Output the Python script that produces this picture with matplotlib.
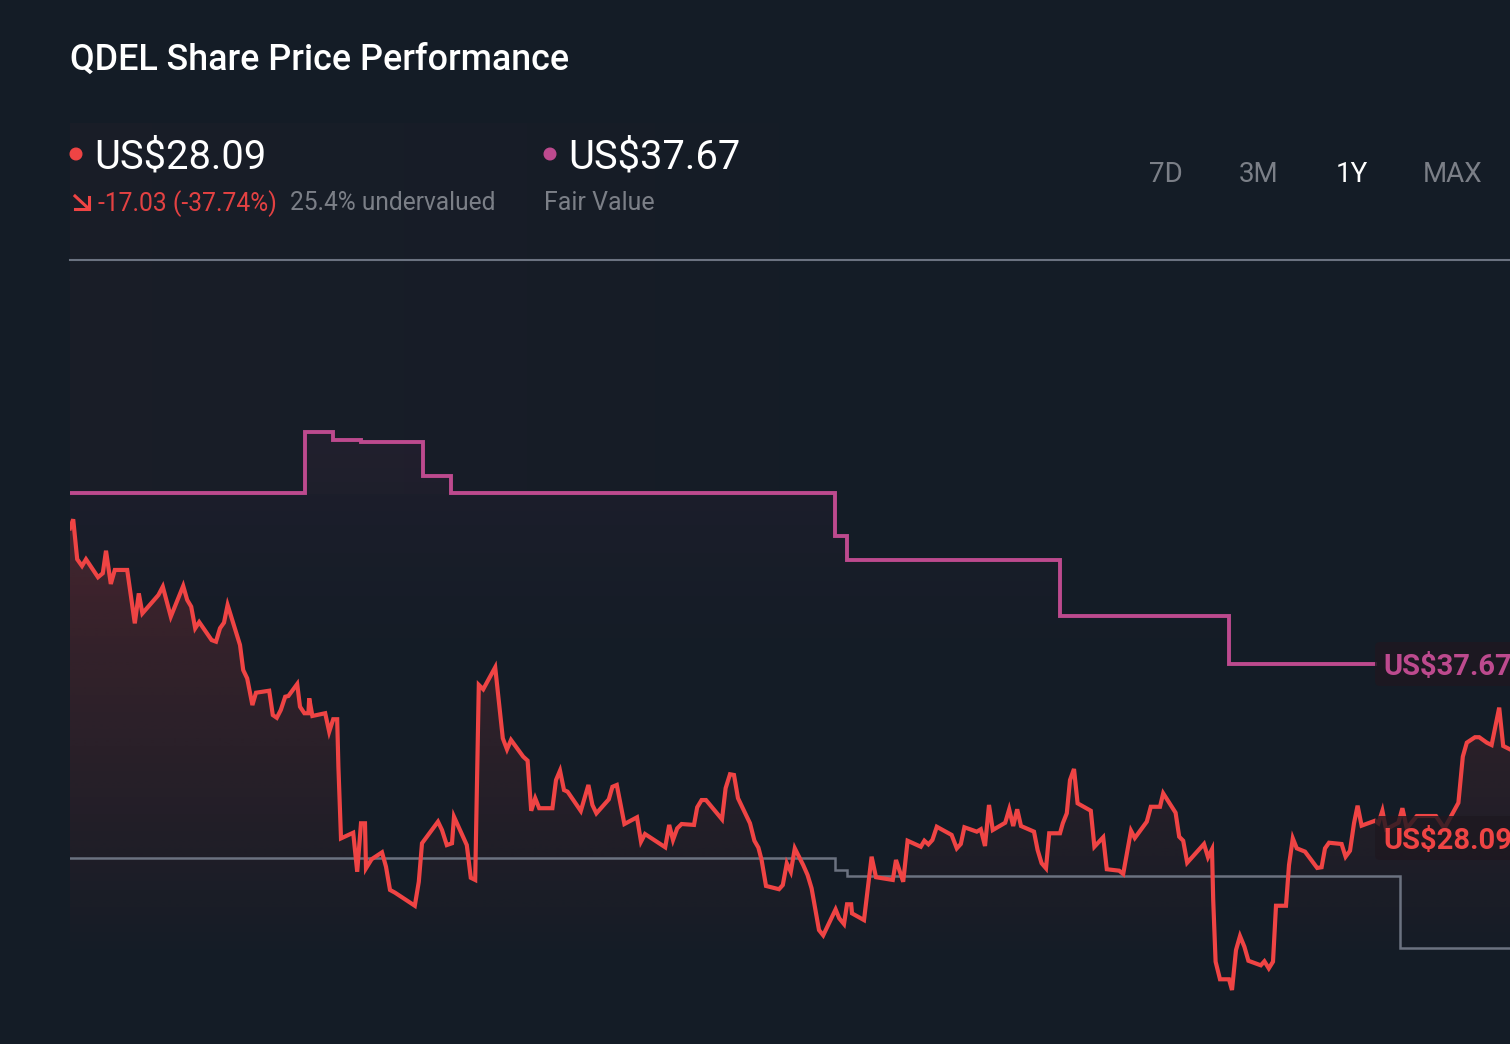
import numpy as np
import matplotlib
matplotlib.use("Agg")
import matplotlib.pyplot as plt
from matplotlib.patches import FancyBboxPatch, Polygon, Circle

plt.rcParams['font.family'] = ['Roboto', 'DejaVu Sans']

# share price, days since start of the 1Y window
price_days = [0, 0.8, 1.8, 3, 4, 7, 8.2, 9, 10.2, 11.2, 14.3, 16.2, 17.2, 18.1, 22.1, 23.2, 24.2, 25.2,
	28.3, 29.3, 30.3, 31.3, 32.3, 35.4, 36.5, 37.5, 38.5, 39.4, 42.5, 43.3, 44.3, 45.6, 46.5, 49.8,
	50.7, 51.7, 52.7, 53.8, 54.6, 56.8, 57.5, 58.6, 59.6, 59.8, 60.6, 63.8, 64.8, 65.8, 66.8, 67.1,
	67.75, 70.8, 71.8, 72.75, 73.75, 74, 75.4, 78, 79, 80, 81.25, 85, 86.2, 87.2, 88, 92, 93, 94.2,
	95.5, 96, 99.2, 100.2, 101.3, 102.2, 103.3, 106.3, 108.2, 109.25, 110.25, 113.3, 114.4, 115.3,
	116.3, 117.3, 120.6, 121.5, 122.5, 123.5, 124.4, 127.7, 129.6, 130.6, 131.6, 134.7, 135.6, 136.7,
	138.6, 141.75, 142.75, 143.75, 148.8, 149.8, 150.75, 151.8, 152.9, 156, 156.8, 157.9, 159, 163,
	163.9, 165, 166, 167, 170, 171.1, 172.1, 172.9, 174, 177.25, 178.2, 179.2, 180.2, 181.2, 183.3,
	184.4, 185.4, 187.25, 188.3, 191.4, 192.3, 193.5, 194.25, 195.3, 195.5, 198.5, 199.6, 200.4,
	201.5, 205.7, 206.5, 208.3, 209.4, 212.7, 213.6, 214.6, 215.6, 216.7, 220.4, 221.7, 222.7, 223.6,
	226.7, 227.7, 228.75, 229.75, 230.7, 233.8, 234.8, 235.8, 236.8, 237.75, 241, 241.9, 242.9, 244,
	244.8, 247.5, 248.2, 249.2, 250, 251, 251.9, 255.2, 256.1, 258.3, 259.2, 262.3, 263.3, 265.25,
	266.2, 269.2, 270.2, 272.5, 273.3, 276.4, 277.3, 278.3, 279.3, 283.5, 284.5, 285.5, 285.8, 286.4,
	287.5, 289.75, 290.5, 291.5, 292.5, 293.6, 294.6, 297.7, 298.6, 299.7, 300.75, 301.5, 304, 304.75,
	305.7, 306.7, 308.75, 311.8, 312.9, 313.75, 314.75, 317.9, 318.9, 320, 321, 321.9, 322.9, 326.25,
	327.1, 328.1, 329, 332.1, 333.1, 334.2, 336.7, 341.5, 343.6, 347.1, 348.2, 349.2, 351.25, 352.3,
	354.2, 355.4, 357.3, 358.3, 360]
price_values = [45.14, 45.64, 43.44, 43.07, 43.44, 42.45, 42.67, 43.91, 42.08, 42.85, 42.85, 39.91, 41.56, 40.46, 41.47, 41.93, 41.10, 40.28,
	41.97, 41.20, 40.83, 39.64, 39.98, 38.99, 38.90, 39.64, 39.95, 40.92, 38.72, 37.34, 36.88, 35.41, 36.09, 36.20,
	34.86, 34.71, 35.14, 35.87, 35.91, 36.57, 35.32, 34.96, 34.96, 35.78, 34.81, 34.96, 33.94, 34.63, 34.63, 32.02,
	28.07, 28.38, 26.23, 28.90, 28.90, 26.42, 26.92, 27.30, 26.51, 25.23, 25.08, 24.53, 24.36, 25.68, 27.80, 28.99, 28.53, 27.70,
	27.80, 29.26, 27.70, 25.90, 25.78, 36.52, 36.28, 37.49, 33.58, 32.97, 33.49, 32.57, 32.35, 29.59,
	30.28, 29.73, 29.73, 31.28, 31.80, 30.73, 30.64, 29.58, 31.01, 29.91, 29.45, 30.22, 30.91, 31.01,
	28.86, 29.23, 27.89, 28.31, 27.58, 28.81, 27.98, 28.62, 28.86, 28.81, 29.78, 30.18, 30.18, 29.12,
	30.83, 31.60, 31.56, 30.28, 28.90, 27.94, 27.56, 26.88, 25.45, 25.27, 25.50, 26.70, 26.23, 27.52, 26.60,
	26.05, 25.32, 23.02, 22.73, 24.16, 23.67, 23.35, 24.44, 24.44, 23.94, 23.57, 25.60, 27.06,
	25.93, 25.78, 26.88, 25.68, 27.94, 27.61, 27.94, 27.74, 27.98, 28.71, 28.26, 27.52, 27.76, 28.68,
	28.44, 28.57, 27.65, 29.91, 28.53, 28.93, 29.67, 28.75, 29.67, 28.75, 28.44, 27.43, 26.70, 26.42,
	28.35, 28.35, 28.90, 29.45, 31.28, 31.89, 30.00, 29.59, 27.61, 28.13, 26.37, 26.29, 26.11, 28.49,
	28.09, 28.99, 29.81, 29.81, 30.55, 29.48, 28.16, 27.94, 26.73, 27.76, 27.03, 27.47, 24.68, 21.28,
	20.31, 20.31, 19.72, 21.92, 22.69, 22.10, 21.33, 21.08, 21.30, 20.91, 21.28, 24.36, 24.36, 26.60,
	28.07, 27.52, 27.34, 26.44, 26.48, 27.52, 27.83, 27.76, 27.06, 27.39, 28.90, 29.87, 28.77, 29.04,
	28.90, 29.59, 28.57, 28.93, 29.73, 28.62, 29.30, 29.30, 28.62, 30.03, 32.57, 33.34, 33.64, 33.64,
	33.34, 33.21, 35.27, 33.16, 32.97]

# fair value steps
fair_days = [0, 58.75, 65.75, 72.75, 88.25, 95.25, 191.25, 194.25, 247.5, 289.75, 326.25]
fair_values = [47.09, 50.45, 50.01, 49.90, 48.02, 47.09, 44.72, 43.40, 40.31, 37.67, 37.67]

# analyst target steps, grey line
target_days = [0, 191.25, 194.25, 332.5, 360]
target_values = [26.99, 26.33, 26.00, 22.03, 22.03]

tabs = ["7D", "3M", "1Y", "MAX"]

BG = "#141c26"
RED = "#ef4444"
PINK = "#bd4a8e"
GREY = "#6b7280"
MUTED = "#7b7f87"

W, H = 1510, 1044
fig = plt.figure(figsize=(W / 100, H / 100), dpi=100, facecolor=BG)

# chart axes: 70px to the right edge, 4px a day, 18.16px a dollar
ax = fig.add_axes([70 / W, 0, 1440 / W, 1])
ax.set_xlim(0, 360)
ax.set_ylim(28.09 + (838 - H) / 18.16, 28.09 + 838 / 18.16)
ax.axis("off")
ax.patch.set_alpha(0)

# overlay in pixels for header texts
hd = fig.add_axes([0, 0, 1, 1], zorder=5)
hd.set_xlim(0, W)
hd.set_ylim(H, 0)
hd.axis("off")
hd.patch.set_alpha(0)


def gradient_fill(days, values, rgb, top_alpha, top_val, bottom_val, z):
	# vertical fade clipped under a series
	n = 256
	img = np.zeros((n, 2, 4))
	img[..., :3] = matplotlib.colors.to_rgb(rgb)
	img[..., 3] = np.linspace(top_alpha, 0, n)[:, None]
	im = ax.imshow(img, extent=[0, 360, bottom_val, top_val], aspect="auto", zorder=z, interpolation="bilinear")
	verts = list(zip(days, values)) + [(days[-1], bottom_val), (days[0], bottom_val)]
	poly = Polygon(verts, closed=True, transform=ax.transData, fill=False, edgecolor="none")
	ax.add_patch(poly)
	im.set_clip_path(poly)


ylim = ax.get_ylim()
xlim = ax.get_xlim()

# faint panel tint behind header, fading to the right
panel = np.zeros((2, 256, 4))
panel[..., :3] = matplotlib.colors.to_rgb("#e05a6a")
panel[..., 3] = np.linspace(0.03, 0, 256)[None, :]
ax.imshow(panel, extent=[0, 240, 28.09 + (838 - 494) / 18.16, 28.09 + (838 - 124) / 18.16], aspect="auto", zorder=0)

fair_x = np.repeat(fair_days, 2)[1:]
fair_y = np.repeat(fair_values, 2)[:-1]
gradient_fill(fair_x, fair_y, PINK, 0.065, 50.45, 37.5, 1)
gradient_fill(price_days, price_values, RED, 0.21, 46.0, 21.0, 2)
ax.set_xlim(xlim)
ax.set_ylim(ylim)

ax.step(target_days, target_values, where="post", color=GREY, lw=1.8, zorder=3, solid_joinstyle="miter")
ax.step(fair_days, fair_values, where="post", color=PINK, lw=2.8, zorder=4, solid_joinstyle="miter")
ax.plot(price_days, price_values, color=RED, lw=3, zorder=5, solid_joinstyle="miter")

# header
hd.text(70, 56.5, "QDEL Share Price Performance", color="white", fontsize=25.8, fontweight="medium", va="center_baseline")
hd.plot([70, W], [260, 260], color=GREY, lw=1.5)

hd.add_patch(Circle((76, 154), 5.8, color=RED))
hd.text(94, 152.5, "US$28.09", color="white", fontsize=28.7, va="center_baseline")
hd.plot([75, 88.5], [196, 208.5], color=RED, lw=2.2)
hd.plot([74.5, 89, 89], [209, 209, 197], color=RED, lw=2.2, solid_joinstyle="miter")
hd.text(98, 201, "-17.03 (-37.74%)", color=RED, fontsize=17.7, va="center_baseline", alpha=0.95)
hd.text(290, 201, "25.4% undervalued", color=MUTED, fontsize=17.65, va="center_baseline")

hd.add_patch(Circle((550, 154), 5.8, color=PINK))
hd.text(568, 152.5, "US$37.67", color="white", fontsize=28.7, va="center_baseline")
hd.text(544, 201, "Fair Value", color=MUTED, fontsize=18, va="center_baseline")

for label, cx in zip(tabs, [1166, 1259, 1352, 1453]):
	hd.text(cx, 172, label, color="white" if label == "1Y" else MUTED, fontsize=20, ha="center", va="center_baseline")

# end labels, cut by the right edge as in the app
for y, txt, col in [(664, "US$37.67", PINK), (838, "US$28.09", RED)]:
	hd.add_patch(FancyBboxPatch((1375, y - 22), 170, 44, boxstyle="round,pad=0,rounding_size=5",
		facecolor="#1e1820", edgecolor="none", alpha=0.82))
	hd.text(1383, y, txt, color=col, fontsize=21, fontweight="bold", va="center_baseline")
hd.set_xlim(0, W)
hd.set_ylim(H, 0)

fig.savefig("out.png", dpi=100, facecolor=BG)
